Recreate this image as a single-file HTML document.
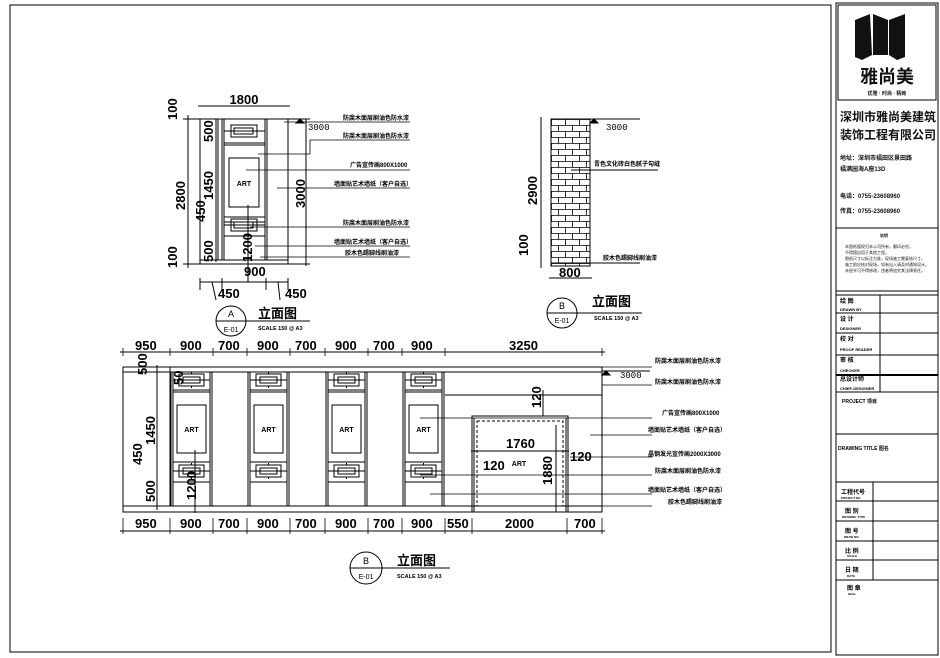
<!DOCTYPE html>
<html><head><meta charset="utf-8"><style>
html,body{margin:0;padding:0;background:#fff;}
svg{display:block;font-family:"Liberation Sans","Noto Sans CJK SC",sans-serif;}
.t{font-size:6px;font-weight:bold;}
.d{font-size:13px;font-weight:bold;}
</style></head><body>
<svg width="940" height="658" viewBox="0 0 940 658" xmlns="http://www.w3.org/2000/svg" stroke="#000" fill="none" stroke-width="1">
<defs>
<pattern id="brick" x="551" y="119" width="14" height="12" patternUnits="userSpaceOnUse">
<path d="M0 0.5H14M0 6.5H14M0.5 0V6M7.5 6V12" stroke="#000" stroke-width="0.8"/>
</pattern>
<g id="orn">
<line x1="3" y1="0" x2="40" y2="0"/>
<rect x="9" y="-6" width="25" height="12"/>
<rect x="13" y="-3" width="17" height="6"/>
<line x1="21.5" y1="-8" x2="21.5" y2="-6"/><line x1="21.5" y1="6" x2="21.5" y2="8"/>
</g>
<g id="pan">
<line x1="1" y1="372" x2="1" y2="506"/><line x1="3" y1="372" x2="3" y2="506"/>
<line x1="40" y1="372" x2="40" y2="506"/><line x1="42" y1="372" x2="42" y2="506"/>
<line x1="3" y1="390" x2="40" y2="390"/><line x1="3" y1="392" x2="40" y2="392"/>
<line x1="3" y1="462" x2="40" y2="462"/><line x1="3" y1="482" x2="40" y2="482"/>
<use href="#orn" y="380"/><use href="#orn" y="471"/>
<rect x="7" y="405" width="29" height="48"/>
<text x="21.5" y="432" class="t" fill="#000" stroke="none" text-anchor="middle" style="font-size:7px">ART</text>
</g>
</defs>

<!-- outer frame -->
<rect x="10" y="5" width="821" height="647"/>
<line x1="836" y1="3" x2="836" y2="655"/>
<rect x="836" y="3" width="102" height="652"/>

<!-- title block -->
<rect x="838" y="5" width="98" height="95"/>
<g fill="#111" stroke="none">
<path d="M855 20 L870 14 L872 55 L862 60 L855 57Z"/>
<path d="M873 14 L888 20 L888 55 L873 55Z"/>
<path d="M889 20 L905 14 L905 57 L897 60 L889 55Z"/>
<text x="887" y="83" font-size="18" font-weight="bold" text-anchor="middle">雅尚美</text>
<text x="887" y="95" font-size="5" font-weight="bold" text-anchor="middle">优雅 · 时尚 · 精致</text>
<text x="840" y="121" font-size="12" font-weight="bold">深圳市雅尚美建筑</text>
<text x="840" y="139" font-size="12" font-weight="bold">装饰工程有限公司</text>
<text x="840" y="160" font-size="6" font-weight="bold">地址：深圳市福田区景田路</text>
<text x="840" y="171" font-size="6" font-weight="bold">福满园海A座13D</text>
<text x="840" y="198" font-size="6" font-weight="bold">电话：0755-23608960</text>
<text x="840" y="213" font-size="6" font-weight="bold">传真：0755-23608960</text>
<text x="880" y="237" font-size="4" font-weight="bold">说明</text>
<text x="845" y="248" font-size="4">本图纸版权归本公司所有，翻印必究。</text>
<text x="845" y="254" font-size="4">不得擅自用于其他工程。</text>
<text x="845" y="260" font-size="4">图纸尺寸以标注为准，现场施工需复核尺寸。</text>
<text x="845" y="266" font-size="4">施工前应核对现场，如有出入请及时通知设计。</text>
<text x="845" y="272" font-size="4">未经许可不得修改，违者将追究其法律责任。</text>
</g>
<line x1="836" y1="228" x2="938" y2="228"/>
<line x1="836" y1="291" x2="938" y2="291"/>
<line x1="836" y1="295" x2="938" y2="295"/>
<line x1="836" y1="313" x2="938" y2="313"/>
<line x1="836" y1="333" x2="938" y2="333"/>
<line x1="836" y1="355" x2="938" y2="355"/>
<line x1="836" y1="375" x2="938" y2="375" stroke-width="2"/>
<line x1="836" y1="392" x2="938" y2="392"/>
<line x1="880" y1="295" x2="880" y2="392"/>
<line x1="836" y1="434" x2="938" y2="434"/>
<line x1="836" y1="482" x2="938" y2="482"/>
<line x1="836" y1="501" x2="938" y2="501"/>
<line x1="836" y1="521" x2="938" y2="521"/>
<line x1="836" y1="541" x2="938" y2="541"/>
<line x1="836" y1="560" x2="938" y2="560"/>
<line x1="836" y1="580" x2="938" y2="580"/>
<line x1="873" y1="482" x2="873" y2="580"/>
<g fill="#000" stroke="none" font-weight="bold">
<text x="840" y="303" font-size="6">绘 图</text><text x="840" y="311" font-size="4">DRAWN BY</text>
<text x="840" y="321" font-size="6">设 计</text><text x="840" y="330" font-size="4">DESIGNER</text>
<text x="840" y="341" font-size="6">校 对</text><text x="840" y="351" font-size="4">PROOF READER</text>
<text x="840" y="362" font-size="6">审 核</text><text x="840" y="372" font-size="4">CHECKER</text>
<text x="840" y="381" font-size="6">总设计师</text><text x="840" y="390" font-size="4">CHIEF-DESIGNER</text>
<text x="842" y="403" font-size="5">PROJECT 项目</text>
<text x="838" y="450" font-size="5">DRAWING TITLE 图名</text>
<text x="841" y="494" font-size="6">工程代号</text><text x="841" y="499" font-size="3">PROJECT NO</text>
<text x="845" y="513" font-size="6">图 别</text><text x="842" y="518" font-size="3">DRAWING TYPE</text>
<text x="845" y="533" font-size="6">图 号</text><text x="844" y="538" font-size="3">DRAW NO.</text>
<text x="845" y="553" font-size="6">比 例</text><text x="847" y="557" font-size="3">SCALE</text>
<text x="845" y="572" font-size="6">日 期</text><text x="847" y="577" font-size="3">DATE</text>
<text x="847" y="590" font-size="6">图 章</text><text x="848" y="595" font-size="3">SEAL</text>
</g>

<!-- ===== Elevation A (top-left) ===== -->
<rect x="200" y="119" width="88" height="145"/>
<line x1="200" y1="260" x2="288" y2="260"/>
<line x1="218" y1="119" x2="218" y2="260"/>
<line x1="222" y1="119" x2="222" y2="260"/>
<line x1="224" y1="119" x2="224" y2="260"/>
<line x1="265" y1="119" x2="265" y2="260"/>
<line x1="267" y1="119" x2="267" y2="260"/>
<line x1="224" y1="143" x2="265" y2="143"/><line x1="224" y1="145" x2="265" y2="145"/>
<line x1="224" y1="217" x2="265" y2="217"/><line x1="224" y1="222" x2="265" y2="222"/>
<line x1="224" y1="236" x2="265" y2="236"/>
<line x1="224" y1="131" x2="265" y2="131"/>
<rect x="231" y="125" width="26" height="12"/><rect x="234" y="128" width="19" height="6"/>
<line x1="224" y1="225" x2="265" y2="225"/>
<rect x="231" y="219" width="26" height="12"/><rect x="234" y="222" width="19" height="6"/>
<rect x="229" y="158" width="30" height="49"/>
<text x="244" y="186" class="t" fill="#000" stroke="none" text-anchor="middle" style="font-size:7px">ART</text>
<!-- dims A -->
<line x1="198" y1="106" x2="290" y2="106"/>
<text x="244" y="104" class="d" fill="#000" stroke="none" text-anchor="middle">1800</text>
<line x1="188" y1="115" x2="188" y2="268"/>
<line x1="183" y1="119" x2="200" y2="119"/><line x1="183" y1="264" x2="200" y2="264"/>
<g fill="#000" stroke="none" class="d">
<text transform="translate(177,120) rotate(-90)">100</text>
<text transform="translate(185,210) rotate(-90)">2800</text>
<text transform="translate(177,268) rotate(-90)">100</text>
<text transform="translate(213,142) rotate(-90)">500</text>
<text transform="translate(213,200) rotate(-90)">1450</text>
<text transform="translate(205,222) rotate(-90)">450</text>
<text transform="translate(213,262) rotate(-90)">500</text>
<text transform="translate(252,262) rotate(-90)">1200</text>
<text transform="translate(305,208) rotate(-90)">3000</text>
<text x="244" y="276">900</text>
<text x="218" y="298">450</text><text x="285" y="298">450</text>
</g>
<line x1="216" y1="119" x2="216" y2="262"/>
<line x1="306" y1="119" x2="306" y2="266"/>
<line x1="288" y1="119" x2="310" y2="119"/>
<line x1="288" y1="264" x2="310" y2="264"/>
<line x1="200" y1="282" x2="288" y2="282"/>
<line x1="200" y1="278" x2="200" y2="290"/><line x1="222" y1="278" x2="222" y2="290"/>
<line x1="266" y1="278" x2="266" y2="290"/><line x1="288" y1="278" x2="288" y2="290"/>
<line x1="212" y1="282" x2="216" y2="300"/><line x1="278" y1="282" x2="280" y2="300"/>
<line x1="248" y1="205" x2="248" y2="282"/>
<path d="M296 123 L300 119 L304 123Z" fill="#000"/>
<text x="308" y="130" font-size="9" fill="#000" stroke="none" font-family="Liberation Mono">3000</text>
<!-- leaders A -->
<g stroke-width="0.8">
<line x1="284" y1="122" x2="410" y2="122"/>
<line x1="258" y1="154" x2="310" y2="154"/><line x1="310" y1="154" x2="310" y2="140"/><line x1="310" y1="140" x2="410" y2="140"/>
<line x1="246" y1="170" x2="410" y2="170"/>
<line x1="277" y1="188" x2="410" y2="188"/>
<line x1="250" y1="227" x2="410" y2="227"/>
<line x1="255" y1="246" x2="410" y2="246"/>
<line x1="260" y1="257" x2="410" y2="257"/>
</g>
<g fill="#000" stroke="none" class="t">
<text x="343" y="120">防腐木面层刷油色防水漆</text>
<text x="343" y="138">防腐木面层刷油色防水漆</text>
<text x="350" y="167">广告宣传画800X1000</text>
<text x="334" y="186">墙面贴艺术墙纸（客户自选）</text>
<text x="343" y="225">防腐木面层刷油色防水漆</text>
<text x="334" y="244">墙面贴艺术墙纸（客户自选）</text>
<text x="345" y="255">胶木色踢脚线刷油漆</text>
</g>
<circle cx="231" cy="321" r="15"/>
<line x1="216" y1="321" x2="310" y2="321"/>
<g fill="#000" stroke="none">
<text x="231" y="317" font-size="9" text-anchor="middle">A</text>
<text x="231" y="332" font-size="7" text-anchor="middle">E-01</text>
<text x="258" y="318" font-size="13" font-weight="bold">立面图</text>
<text x="258" y="330" font-size="5.5" font-weight="bold">SCALE 150 @ A3</text>
</g>

<!-- ===== Brick elevation ===== -->
<rect x="551" y="119" width="39" height="147" fill="url(#brick)"/>
<line x1="590" y1="119" x2="640" y2="119"/>
<path d="M590 123 L594 119 L598 123Z" fill="#000"/>
<text x="606" y="130" font-size="9" fill="#000" stroke="none" font-family="Liberation Mono">3000</text>
<line x1="541" y1="117" x2="541" y2="268"/>
<line x1="551" y1="263" x2="640" y2="263"/>
<line x1="571" y1="170" x2="658" y2="170"/>
<line x1="549" y1="278" x2="592" y2="278"/>
<g fill="#000" stroke="none">
<text class="t" x="594" y="166">青色文化砖白色腻子勾缝</text>
<text class="t" x="603" y="260">胶木色踢脚线刷油漆</text>
<g class="d"><text transform="translate(537,205) rotate(-90)">2900</text>
<text transform="translate(528,256) rotate(-90)">100</text>
<text x="559" y="277">800</text></g>
</g>
<circle cx="562" cy="313" r="15"/>
<line x1="547" y1="313" x2="642" y2="313"/>
<g fill="#000" stroke="none">
<text x="562" y="309" font-size="9" text-anchor="middle">B</text>
<text x="562" y="323" font-size="7" text-anchor="middle">E-01</text>
<text x="592" y="306" font-size="13" font-weight="bold">立面图</text>
<text x="594" y="320" font-size="5.5" font-weight="bold">SCALE 150 @ A3</text>
</g>

<!-- ===== Bottom elevation ===== -->
<rect x="123" y="367" width="479" height="145"/>
<line x1="123" y1="372" x2="602" y2="372"/>
<line x1="123" y1="506" x2="602" y2="506"/>
<line x1="170" y1="367" x2="170" y2="506"/>
<line x1="602" y1="367" x2="602" y2="512"/>
<use href="#pan" x="170"/>
<use href="#pan" x="247"/>
<use href="#pan" x="325"/>
<use href="#pan" x="402"/>
<line x1="445" y1="395" x2="602" y2="395"/>
<rect x="472" y="416" width="96" height="96"/>
<rect x="477" y="421" width="86" height="85" stroke-dasharray="3,2"/>
<line x1="474" y1="418" x2="474" y2="512"/><line x1="566" y1="418" x2="566" y2="512"/>
<text x="519" y="466" class="t" fill="#000" stroke="none" text-anchor="middle" style="font-size:7px">ART</text>
<!-- bottom dims -->
<line x1="120" y1="352" x2="605" y2="352"/>
<line x1="120" y1="531" x2="605" y2="531"/>
<g stroke-width="0.8">
<line x1="123" y1="348" x2="123" y2="356"/><line x1="170" y1="348" x2="170" y2="356"/><line x1="213" y1="348" x2="213" y2="356"/><line x1="247" y1="348" x2="247" y2="356"/><line x1="290" y1="348" x2="290" y2="356"/><line x1="325" y1="348" x2="325" y2="356"/><line x1="368" y1="348" x2="368" y2="356"/><line x1="402" y1="348" x2="402" y2="356"/><line x1="445" y1="348" x2="445" y2="356"/><line x1="602" y1="348" x2="602" y2="356"/>
<line x1="123" y1="518" x2="123" y2="534"/><line x1="170" y1="518" x2="170" y2="534"/><line x1="213" y1="518" x2="213" y2="534"/><line x1="247" y1="518" x2="247" y2="534"/><line x1="290" y1="518" x2="290" y2="534"/><line x1="325" y1="518" x2="325" y2="534"/><line x1="368" y1="518" x2="368" y2="534"/><line x1="402" y1="518" x2="402" y2="534"/><line x1="445" y1="518" x2="445" y2="534"/><line x1="472" y1="518" x2="472" y2="534"/><line x1="567" y1="518" x2="567" y2="534"/><line x1="602" y1="518" x2="602" y2="534"/>
</g>
<g fill="#000" stroke="none" class="d">
<text x="135" y="350">950</text><text x="180" y="350">900</text><text x="218" y="350">700</text><text x="257" y="350">900</text><text x="295" y="350">700</text><text x="335" y="350">900</text><text x="373" y="350">700</text><text x="411" y="350">900</text><text x="509" y="350">3250</text>
<text x="135" y="528">950</text><text x="180" y="528">900</text><text x="218" y="528">700</text><text x="257" y="528">900</text><text x="295" y="528">700</text><text x="335" y="528">900</text><text x="373" y="528">700</text><text x="411" y="528">900</text><text x="447" y="528">550</text><text x="505" y="528">2000</text><text x="574" y="528">700</text>
<text transform="translate(147,375) rotate(-90)">500</text>
<text transform="translate(183,385) rotate(-90)">50</text>
<text transform="translate(155,445) rotate(-90)">1450</text>
<text transform="translate(142,465) rotate(-90)">450</text>
<text transform="translate(155,502) rotate(-90)">500</text>
<text transform="translate(196,500) rotate(-90)">1200</text>
<text transform="translate(541,408) rotate(-90)">120</text>
<text x="506" y="448">1760</text>
<text x="483" y="470">120</text>
<text x="570" y="461">120</text>
<text transform="translate(552,485) rotate(-90)">1880</text>
</g>
<line x1="157" y1="365" x2="157" y2="510"/>
<line x1="195" y1="450" x2="195" y2="513"/>
<line x1="471" y1="451" x2="569" y2="451"/>
<line x1="556" y1="425" x2="556" y2="512"/>
<line x1="543" y1="390" x2="543" y2="416"/>
<path d="M602 375 L606 371 L610 375Z" fill="#000"/>
<line x1="602" y1="371" x2="650" y2="371"/>
<text x="620" y="378" font-size="9" fill="#000" stroke="none" font-family="Liberation Mono">3000</text>
<g stroke-width="0.8">
<line x1="575" y1="367" x2="652" y2="367"/>
<line x1="602" y1="385" x2="652" y2="385"/>
<line x1="420" y1="418" x2="652" y2="418"/>
<line x1="590" y1="435" x2="652" y2="435"/>
<line x1="570" y1="457" x2="652" y2="457"/>
<line x1="420" y1="475" x2="652" y2="475"/>
<line x1="430" y1="494" x2="652" y2="494"/>
<line x1="550" y1="506" x2="652" y2="506"/>
</g>
<g fill="#000" stroke="none" class="t">
<text x="655" y="363">防腐木面层刷油色防水漆</text>
<text x="655" y="384">防腐木面层刷油色防水漆</text>
<text x="662" y="415">广告宣传画800X1000</text>
<text x="648" y="432">墙面贴艺术墙纸（客户自选）</text>
<text x="648" y="456">晶钢发光宣传画2000X3000</text>
<text x="655" y="473">防腐木面层刷油色防水漆</text>
<text x="648" y="492">墙面贴艺术墙纸（客户自选）</text>
<text x="668" y="504">胶木色踢脚线刷油漆</text>
</g>
<circle cx="366" cy="568" r="16"/>
<line x1="350" y1="568" x2="450" y2="568"/>
<g fill="#000" stroke="none">
<text x="366" y="564" font-size="9" text-anchor="middle">B</text>
<text x="366" y="579" font-size="7" text-anchor="middle">E-01</text>
<text x="397" y="565" font-size="13" font-weight="bold">立面图</text>
<text x="397" y="578" font-size="5.5" font-weight="bold">SCALE 150 @ A3</text>
</g>
</svg>
</body></html>
